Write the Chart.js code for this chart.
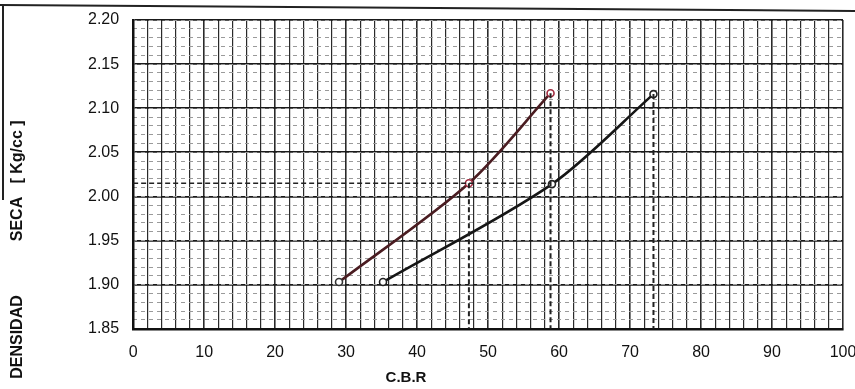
<!DOCTYPE html>
<html>
<head>
<meta charset="utf-8">
<script src="https://cdn.jsdelivr.net/npm/chart.js@4/dist/chart.umd.min.js"></script>
<style>
    html, body { margin: 0; padding: 0; background: #fff; }
    .sheet { position: relative; width: 855px; height: 389px; overflow: hidden; }
    .scan-top { position: absolute; left: 0; top: 4px; width: 870px; height: 2px; background: #222; transform: rotate(0.4deg); transform-origin: 0 0; }
    .scan-left { position: absolute; left: 2px; top: 4px; width: 2px; height: 196px; background: #222; }
    canvas { position: absolute; left: 0; top: 0; }
</style>
</head>
<body>
<div class="sheet">
    <div class="scan-top"></div>
    <div class="scan-left"></div>
    <canvas id="chart" width="855" height="389"></canvas>
</div>
<script>
// curve A (upper-left, reddish)
const cbrA = [29.0, 47.3, 58.8];
const densityA = [1.903, 2.015, 2.117];
// curve B (black)
const cbrB = [35.2, 59.0, 73.3];
const densityB = [1.903, 2.014, 2.116];

// dashed reading lines
const readDensity = 2.015;
const readCbr = [47.3, 58.8, 73.3];
const readTop = [2.015, 2.117, 2.116];

const xTicks = [0, 10, 20, 30, 40, 50, 60, 70, 80, 90, 100];
const yTicks = [1.85, 1.90, 1.95, 2.00, 2.05, 2.10, 2.15, 2.20];

const FONT = '"Liberation Sans", Arial, sans-serif';

const toPoints = (xs, ys) => xs.map((x, i) => ({ x: x, y: ys[i] }));

const dashStyle = {
    showLine: true,
    pointRadius: 0,
    borderColor: '#222',
    borderWidth: 1.6,
    borderDash: [5, 3],
    fill: false,
};

const datasets = [
    {
        ...dashStyle,
        data: [{ x: 0, y: readDensity }, { x: readCbr[1], y: readDensity }],
    },
];
readCbr.forEach((c, i) => {
    datasets.push({
        ...dashStyle,
        borderWidth: 2,
        data: [{ x: c, y: readTop[i] }, { x: c, y: yTicks[0] }],
    });
});
datasets.push({
    data: toPoints(cbrA, densityA),
    showLine: true,
    tension: 0.3,
    borderColor: '#4a1c21',
    borderWidth: 2.6,
    pointRadius: 3.5,
    pointBackgroundColor: '#fff',
    pointBorderColor: ['#333', '#a0283c', '#a0283c'],
    pointBorderWidth: 1.6,
});
datasets.push({
    data: toPoints(cbrB, densityB),
    showLine: true,
    tension: 0.3,
    borderColor: '#161616',
    borderWidth: 2.6,
    pointRadius: 3.5,
    pointBackgroundColor: '#fff',
    pointBorderColor: '#222',
    pointBorderWidth: 1.6,
});

// axis titles sit off-centre in the scan, so draw them by hand
const axisTitles = {
    id: 'axisTitles',
    afterDraw(chart) {
        const ctx = chart.ctx;
        ctx.save();
        ctx.fillStyle = '#111';
        ctx.font = 'bold 15px ' + FONT;
        ctx.textAlign = 'center';
        ctx.textBaseline = 'middle';
        ctx.fillText('C.B.R', 406, 378);
        ctx.font = 'bold 16px ' + FONT;
        ctx.translate(18, 0);
        ctx.rotate(-Math.PI / 2);
        ctx.fillText('DENSIDAD', -337, 0);
        ctx.fillText('SECA', -219, 0);
        ctx.fillText('[ Kg/cc ]', -152, 0);
        ctx.restore();
    },
};

new Chart(document.getElementById('chart'), {
    type: 'scatter',
    data: { datasets: datasets },
    plugins: [axisTitles],
    options: {
        responsive: false,
        animation: false,
        layout: { padding: { left: 74, right: 0, top: 20, bottom: 13 } },
        plugins: { legend: { display: false }, tooltip: { enabled: false } },
        scales: {
            x: {
                type: 'linear',
                min: xTicks[0],
                max: xTicks[xTicks.length - 1],
                afterBuildTicks: (axis) => {
                    const t = [];
                    for (let v = 0; v <= 100; v += 2) t.push({ value: v });
                    axis.ticks = t;
                },
                afterFit: (axis) => { axis.paddingRight = 12; },
                ticks: {
                    autoSkip: false,
                    maxRotation: 0,
                    padding: 14,
                    color: '#111',
                    font: { family: FONT, size: 16 },
                    callback: (v) => (xTicks.includes(v) ? String(v) : ''),
                },
                grid: {
                    color: '#2a2a2a',
                    lineWidth: (c) => (c.tick && c.tick.value % 10 === 0 ? 1.6 : 1.2),
                    drawTicks: false,
                },
                border: { color: '#111', width: 2.5 },
            },
            y: {
                type: 'linear',
                min: yTicks[0],
                max: yTicks[yTicks.length - 1],
                afterBuildTicks: (axis) => {
                    axis.ticks = yTicks.map((v) => ({ value: v }));
                },
                afterFit: (axis) => { axis.paddingTop = 0; },
                ticks: {
                    padding: 14,
                    color: '#111',
                    font: { family: FONT, size: 16 },
                    callback: (v) => v.toFixed(2),
                },
                grid: { color: '#1a1a1a', lineWidth: 1.8, drawTicks: false },
                border: { color: '#111', width: 2.5 },
            },
            yMinor: {
                type: 'linear',
                position: 'left',
                min: yTicks[0],
                max: yTicks[yTicks.length - 1],
                afterBuildTicks: (axis) => {
                    const t = [];
                    for (let i = 0; i <= 35; i++) t.push({ value: yTicks[0] + i * 0.01 });
                    axis.ticks = t;
                },
                afterFit: (axis) => { axis.width = 0; axis.paddingTop = 0; },
                ticks: { display: false, padding: 0 },
                grid: { color: '#9a9a9a', lineWidth: 1, drawTicks: false, tickLength: 0 },
                border: { display: false, dash: [4, 4] },
            },
        },
    },
});
</script>
</body>
</html>
